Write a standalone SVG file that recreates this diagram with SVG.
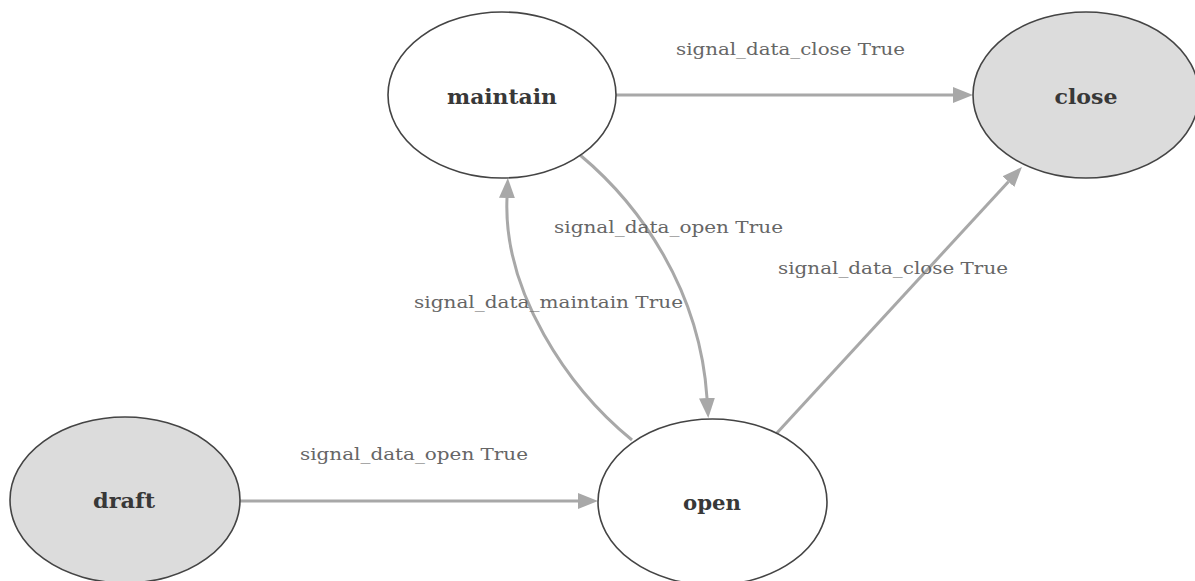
<svg xmlns="http://www.w3.org/2000/svg" width="1195" height="581" viewBox="0 0 1195 581">
  <style>
    .state { stroke: #444; stroke-width: 1.6; }
    .plain { fill: #ffffff; }
    .terminal { fill: #dcdcdc; }
    .name { font-family: "DejaVu Serif", "Liberation Serif", serif; font-weight: bold; font-size: 20px; fill: #383838; text-anchor: middle; }
    .edge { fill: none; stroke: #a8a8a8; stroke-width: 3; marker-end: url(#arrow); }
    .cond { font-family: "DejaVu Serif", "Liberation Serif", serif; font-size: 17.5px; fill: #666; }
  </style>
  <defs>
    <marker id="arrow" markerUnits="userSpaceOnUse" markerWidth="22" markerHeight="18" viewBox="0 -9 22 18" refX="0" refY="0" orient="auto">
      <path d="M0,-8 L20,0 L0,8 Z" fill="#a8a8a8"/>
    </marker>
  </defs>

  <rect width="1195" height="581" fill="#ffffff"/>

  <!-- transitions -->
  <g id="connectors">
    <path class="edge" d="M616,95 L953,95"/>
    <path class="edge" d="M240,501 L578,501"/>
    <path class="edge" d="M580,155 C640,205 700,290 707,398"/>
    <path class="edge" d="M632,440 C568,388 503,292 507,198"/>
    <path class="edge" d="M776,434 L1008.4,181.7"/>
  </g>

  <!-- transition conditions -->
  <g id="labels">
    <text class="cond" x="676" y="55" textLength="229" lengthAdjust="spacingAndGlyphs">signal_data_close True</text>
    <text class="cond" x="554" y="233" textLength="229" lengthAdjust="spacingAndGlyphs">signal_data_open True</text>
    <text class="cond" x="778" y="274" textLength="230" lengthAdjust="spacingAndGlyphs">signal_data_close True</text>
    <text class="cond" x="414" y="308" textLength="269" lengthAdjust="spacingAndGlyphs">signal_data_maintain True</text>
    <text class="cond" x="300" y="460" textLength="228" lengthAdjust="spacingAndGlyphs">signal_data_open True</text>
  </g>

  <!-- states -->
  <g id="node-maintain">
    <ellipse class="state plain" cx="502" cy="95" rx="114" ry="83"/>
    <text class="name" x="502" y="104" textLength="110" lengthAdjust="spacingAndGlyphs">maintain</text>
  </g>
  <g id="node-close">
    <ellipse class="state terminal" cx="1086" cy="95" rx="113" ry="83"/>
    <text class="name" x="1086" y="104" textLength="63" lengthAdjust="spacingAndGlyphs">close</text>
  </g>
  <g id="node-draft">
    <ellipse class="state terminal" cx="125" cy="500" rx="115" ry="83"/>
    <text class="name" x="124" y="508" textLength="62" lengthAdjust="spacingAndGlyphs">draft</text>
  </g>
  <g id="node-open">
    <ellipse class="state plain" cx="712.5" cy="502" rx="114.5" ry="83"/>
    <text class="name" x="712" y="510" textLength="58" lengthAdjust="spacingAndGlyphs">open</text>
  </g>
</svg>
